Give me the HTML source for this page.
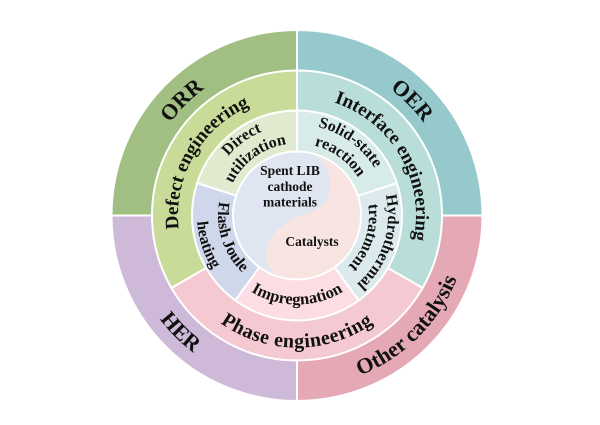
<!DOCTYPE html>
<html>
<head>
<meta charset="utf-8">
<style>
  html, body { margin: 0; padding: 0; background: #ffffff; }
  body { width: 600px; height: 425px; overflow: hidden; }
  svg { display: block; }
  text { font-family: "Liberation Serif", "Times New Roman", serif; font-weight: bold; fill: #111; }
</style>
</head>
<body>
<svg width="600" height="425" viewBox="0 0 600 425" xmlns="http://www.w3.org/2000/svg">
  <defs>
    <!-- clockwise arcs centered at top (tops outward) -->
    <path id="cw157" d="M140.60,201.82 A157,157 0 0,1 453.40,201.82"/>
    <path id="cw119" d="M178.45,205.13 A119,119 0 0,1 415.55,205.13"/>
    <path id="cw91" d="M206.35,207.57 A91,91 0 0,1 387.65,207.57"/>
    <path id="cw72" d="M225.27,209.22 A72,72 0 0,1 368.73,209.22"/>
    <!-- counterclockwise arcs centered at bottom (tops inward) -->
    <path id="ccw172" d="M125.66,230.49 A172,172 0 0,0 468.34,230.49"/>
    <path id="ccw132" d="M165.50,227.01 A132,132 0 0,0 428.50,227.01"/>
    <path id="ccw89" d="M208.34,223.26 A89,89 0 0,0 385.66,223.26"/>
    <path id="ccw79" d="M218.30,222.39 A79,79 0 0,0 375.70,222.39"/>
    <path id="ccw100" d="M197.38,224.22 A100,100 0 0,0 396.62,224.22"/>
  </defs>

  <!-- Outer ring quadrants -->
  <g stroke="#ffffff" stroke-width="2">
    <path d="M297,215.5 L297,30 A185.5,185.5 0 0,0 111.5,215.5 Z" fill="#a1bf82"/>
    <path d="M297,215.5 L297,30 A185.5,185.5 0 0,1 482.5,215.5 Z" fill="#95c9cc"/>
    <path d="M297,215.5 L111.5,215.5 A185.5,185.5 0 0,0 297,401 Z" fill="#cfb9d8"/>
    <path d="M297,215.5 L482.5,215.5 A185.5,185.5 0 0,1 297,401 Z" fill="#e5a9b6"/>
  </g>

  <!-- Middle ring -->
  <g stroke="#ffffff" stroke-width="2">
    <path d="M297,215.5 L297,70.5 A145,145 0 0,0 171.43,288 Z" fill="#c9db98"/>
    <path d="M297,215.5 L297,70.5 A145,145 0 0,1 422.57,288 Z" fill="#b9ddd9"/>
    <path d="M297,215.5 L171.43,288 A145,145 0 0,0 422.57,288 Z" fill="#f4c9d1"/>
  </g>

  <!-- Inner ring -->
  <g stroke="#ffffff" stroke-width="2">
    <path d="M297,215.5 L297,110.5 A105,105 0 0,0 197.14,183.05 Z" fill="#dfeacf"/>
    <path d="M297,215.5 L197.14,183.05 A105,105 0 0,0 235.28,300.45 Z" fill="#cfd7eb"/>
    <path d="M297,215.5 L235.28,300.45 A105,105 0 0,0 358.72,300.45 Z" fill="#fcdde3"/>
    <path d="M297,215.5 L358.72,300.45 A105,105 0 0,0 396.86,183.05 Z" fill="#dceaee"/>
    <path d="M297,215.5 L396.86,183.05 A105,105 0 0,0 297,110.5 Z" fill="#d7ece8"/>
  </g>

  <!-- Center yin-yang -->
  <circle cx="297" cy="215.5" r="64" fill="#dfe6f2"/>
  <path d="M313.6,153.7 C327,162 336,182 326,200 C318,213 300,214 289,221 C272,231 263,248 267,263 C270,272 276,276 280.4,277.3 A64,64 0 0,0 313.6,153.7 Z" fill="#f8e4e1"/>
  <circle cx="297" cy="215.5" r="64" fill="none" stroke="#ffffff" stroke-width="2"/>

  <!-- Outer labels -->
  <g transform="rotate(-45 297 215.5)"><text font-size="22"><textPath href="#cw157" startOffset="50%" text-anchor="middle">ORR</textPath></text></g>
  <g transform="rotate(45 297 215.5)"><text font-size="22"><textPath href="#cw157" startOffset="50%" text-anchor="middle">OER</textPath></text></g>
  <g transform="rotate(45 297 215.5)"><text font-size="22"><textPath href="#ccw172" startOffset="50%" text-anchor="middle">HER</textPath></text></g>
  <g transform="rotate(-45 297 215.5)"><text font-size="22"><textPath href="#ccw172" startOffset="50%" text-anchor="middle">Other catalysis</textPath></text></g>

  <!-- Middle labels -->
  <g transform="rotate(-60 297 215.5)"><text font-size="19"><textPath href="#cw119" startOffset="50%" text-anchor="middle">Defect engineering</textPath></text></g>
  <g transform="rotate(60 297 215.5)"><text font-size="19"><textPath href="#cw119" startOffset="50%" text-anchor="middle">Interface engineering</textPath></text></g>
  <text font-size="20" letter-spacing="0.5"><textPath href="#ccw132" startOffset="50%" text-anchor="middle">Phase engineering</textPath></text>

  <!-- Inner labels -->
  <g transform="rotate(-36 297 215.5)">
    <text font-size="16"><textPath href="#cw91" startOffset="50%" text-anchor="middle">Direct</textPath></text>
    <text font-size="16"><textPath href="#cw72" startOffset="50%" text-anchor="middle">utilization</textPath></text>
  </g>
  <g transform="rotate(36 297 215.5)">
    <text font-size="16"><textPath href="#cw91" startOffset="50%" text-anchor="middle">Solid-state</textPath></text>
    <text font-size="16"><textPath href="#cw72" startOffset="50%" text-anchor="middle">reaction</textPath></text>
  </g>
  <g transform="rotate(108 297 215.5)">
    <text font-size="16"><textPath href="#cw91" startOffset="50%" text-anchor="middle">Hydrothermal</textPath></text>
    <text font-size="16"><textPath href="#cw72" startOffset="50%" text-anchor="middle">treatment</textPath></text>
  </g>
  <g transform="rotate(72 297 215.5)">
    <text font-size="16"><textPath href="#ccw79" startOffset="50%" text-anchor="middle">Flash Joule</textPath></text>
    <text font-size="16"><textPath href="#ccw100" startOffset="50%" text-anchor="middle">heating</textPath></text>
  </g>
  <text font-size="16.5"><textPath href="#ccw89" startOffset="50%" text-anchor="middle">Impregnation</textPath></text>

  <!-- Center labels -->
  <text font-size="13.5" x="290" y="175" text-anchor="middle">Spent LIB</text>
  <text font-size="13.5" x="290" y="191" text-anchor="middle">cathode</text>
  <text font-size="13.5" x="290" y="206.5" text-anchor="middle">materials</text>
  <text font-size="13.5" x="312" y="246" text-anchor="middle">Catalysts</text>
</svg>
</body>
</html>
